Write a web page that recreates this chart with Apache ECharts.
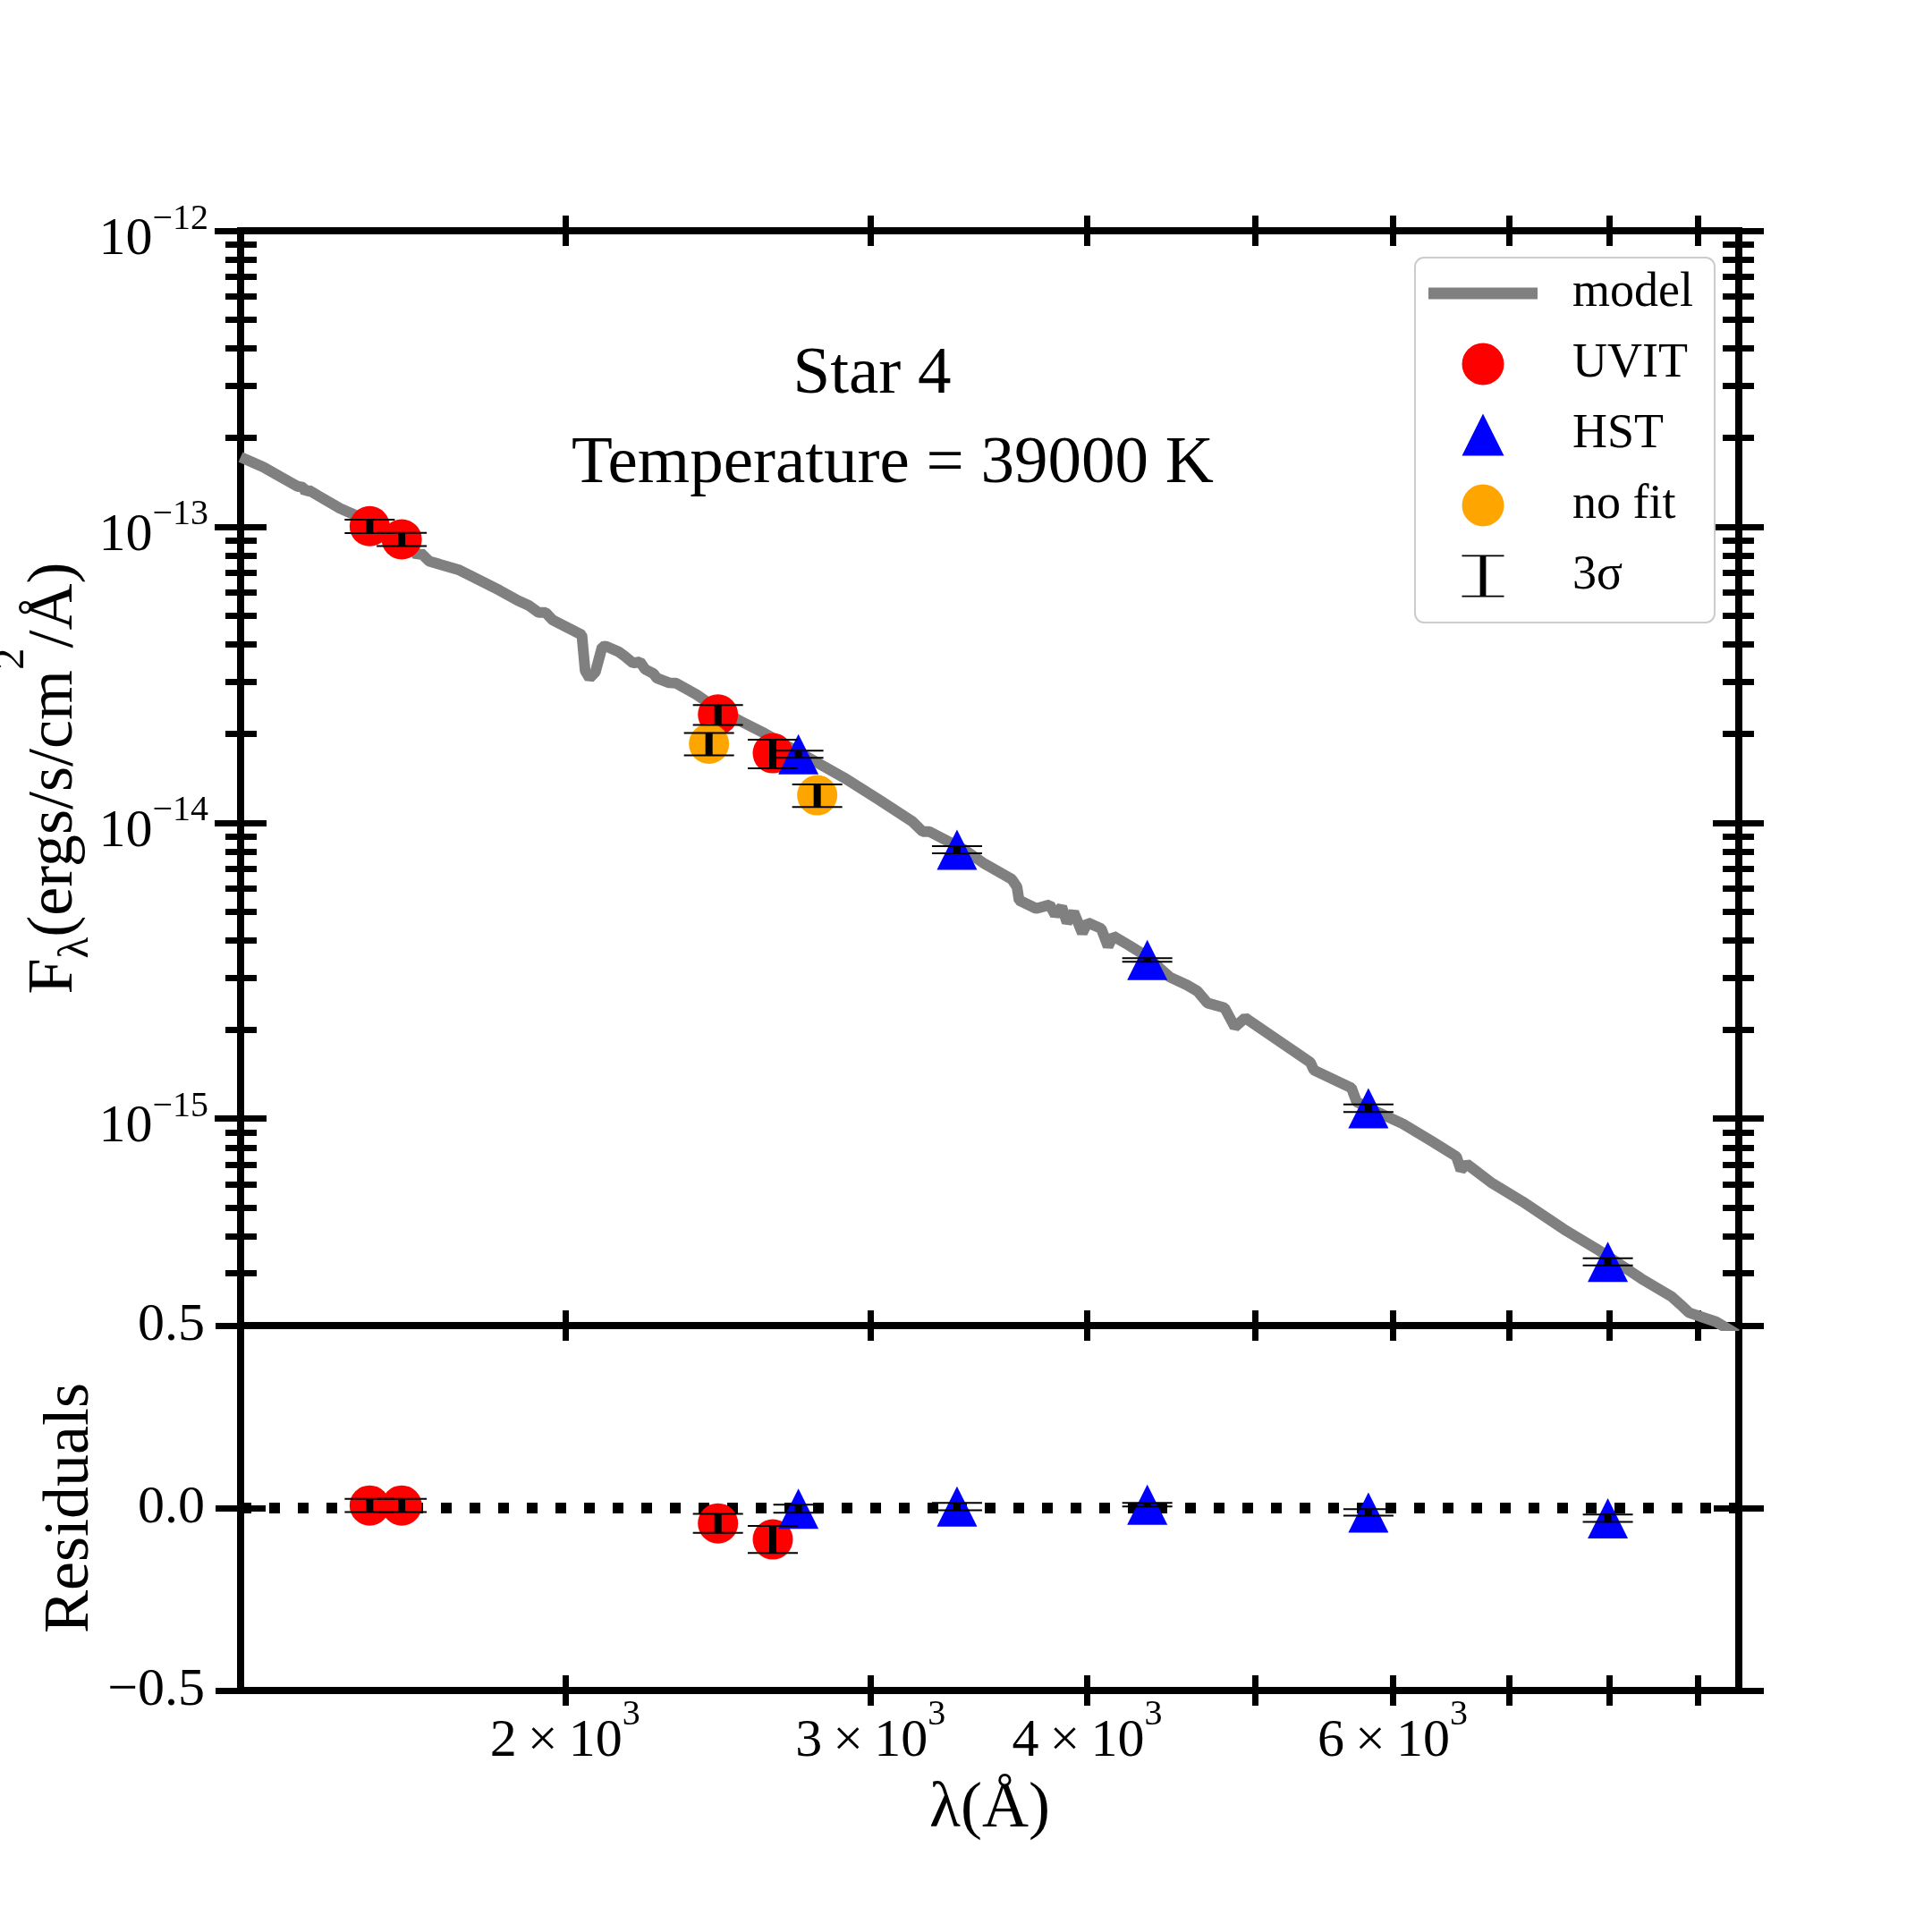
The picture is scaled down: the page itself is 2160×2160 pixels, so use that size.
<!DOCTYPE html>
<html>
<head>
  <meta charset="UTF-8">
  <title>Star 4 SED</title>
  <script src="https://cdn.jsdelivr.net/npm/echarts@6/dist/echarts.min.js"></script>
  <style>
    html, body { margin: 0; padding: 0; background: #fff; }
    #main { width: 2160px; height: 2160px; }
  </style>
</head>
<body>
<div id="main"></div>
<script>
  // axis ranges
  var XMIN = 1300, XMAX = 9500;
  var FMIN = 2e-16, FMAX = 1e-12;

  // model spectrum
  var modelWave = [1300, 1340, 1369, 1402, 1413, 1417, 1423, 1443, 1483, 1506, 1556, 1612, 1635, 1644, 1651,
    1670, 1692, 1738, 1785, 1833, 1879, 1905, 1931, 1949, 1967, 2045, 2054, 2066, 2082, 2101, 2111, 2149,
    2164, 2189, 2209, 2224, 2249, 2259, 2296, 2317, 2381, 2444, 2526, 2608, 2752, 2896, 3031, 3171, 3215,
    3244, 3396, 3491, 3619, 3644, 3654, 3738, 3806, 3833, 3867, 3894, 3929, 3974, 4002, 4075, 4112, 4140,
    4226, 4324, 4463, 4566, 4629, 4692, 4800, 4866, 4933, 5379, 5404, 5681, 5720, 5844, 6081, 6326, 6530,
    6569, 6621, 6848, 7125, 7561, 7866, 8347, 8685, 8789, 8894, 9217, 9476];
  var modelFlux = [1.720e-13, 1.590e-13, 1.480e-13, 1.369e-13, 1.358e-13, 1.308e-13, 1.330e-13, 1.267e-13,
    1.155e-13, 1.110e-13, 1.007e-13, 9.01e-14, 8.52e-14, 7.95e-14, 8.17e-14, 7.64e-14, 7.48e-14, 7.14e-14,
    6.60e-14, 6.10e-14, 5.63e-14, 5.43e-14, 5.13e-14, 5.13e-14, 4.84e-14, 4.31e-14, 3.26e-14, 3.08e-14,
    3.23e-14, 3.93e-14, 3.95e-14, 3.77e-14, 3.66e-14, 3.46e-14, 3.50e-14, 3.30e-14, 3.19e-14, 3.08e-14,
    2.97e-14, 2.96e-14, 2.71e-14, 2.44e-14, 2.20e-14, 2.00e-14, 1.68e-14, 1.42e-14, 1.20e-14, 1.01e-14,
    9.33e-15, 9.33e-15, 8.12e-15, 7.26e-15, 6.44e-15, 6.07e-15, 5.47e-15, 5.13e-15, 5.28e-15, 4.88e-15,
    5.20e-15, 4.60e-15, 4.99e-15, 4.24e-15, 4.60e-15, 4.39e-15, 3.82e-15, 4.14e-15, 3.86e-15, 3.55e-15,
    3.01e-15, 2.83e-15, 2.70e-15, 2.46e-15, 2.37e-15, 2.04e-15, 2.19e-15, 1.55e-15, 1.46e-15, 1.27e-15,
    1.14e-15, 1.07e-15, 9.61e-16, 8.36e-16, 7.45e-16, 6.71e-16, 7.03e-16, 6.05e-16, 5.26e-16, 4.17e-16,
    3.63e-16, 2.88e-16, 2.51e-16, 2.36e-16, 2.21e-16, 2.06e-16, 1.87e-16];

  // photometry
  var uvitWave = [1543, 1610, 2450, 2635];
  var uvitFlux = [1.004e-13, 9.07e-14, 2.32e-14, 1.717e-14];
  var uvitErr = [5.3e-15, 4.7e-15, 1.8e-15, 1.9e-15];
  var uvitRes = [0.007, 0.007, -0.042, -0.086];
  var uvitResErr = [0.018, 0.018, 0.026, 0.037];

  var hstWave = [2726, 3365, 4332, 5810, 7984];
  var hstFlux = [1.705e-14, 8.11e-15, 3.44e-15, 1.085e-15, 3.285e-16];
  var hstErr = [4.7e-16, 2.3e-16, 4.8e-17, 3.2e-17, 9.1e-18];
  var hstRes = [-0.002, 0.004, 0.009, -0.012, -0.028];
  var hstResErr = [0.011, 0.010, 0.005, 0.009, 0.010];

  var nofitWave = [2421, 2795];
  var nofitFlux = [1.848e-14, 1.238e-14];
  var nofitErr = [1.6e-15, 1.08e-15];

  // ticks
  var xTicks = [2000, 3000, 4000, 5000, 6000, 7000, 8000, 9000];
  var xLabelTicks = [2000, 3000, 4000, 6000];
  var fluxMajor = [1e-12, 1e-13, 1e-14, 1e-15];
  var fluxMinor = [3e-16, 4e-16, 5e-16, 6e-16, 7e-16, 8e-16, 9e-16,
    2e-15, 3e-15, 4e-15, 5e-15, 6e-15, 7e-15, 8e-15, 9e-15,
    2e-14, 3e-14, 4e-14, 5e-14, 6e-14, 7e-14, 8e-14, 9e-14,
    2e-13, 3e-13, 4e-13, 5e-13, 6e-13, 7e-13, 8e-13, 9e-13];
  var resTicks = [-0.5, 0, 0.5];

  var FONT = 'Liberation Serif';
  var LX = [Math.log10(XMIN), Math.log10(XMAX)];
  var LY = [Math.log10(FMIN), Math.log10(FMAX)];

  function zip(a, b, c) {
    return a.map(function (v, i) { return c ? [v, b[i], c[i]] : [v, b[i]]; });
  }

  // rich token; glyph shifts by (top - bottom) / 2 from the line centre
  function tok(size, lh, top, bottom) {
    return { fontFamily: FONT, color: '#000', fontSize: size, lineHeight: lh, padding: [top, 0, bottom, 0] };
  }

  // tick-only axis (log-space value axis so custom tick positions work)
  function tickAxis(grid, pos, inside, len, ticks, lo, hi) {
    return {
      type: 'value', gridIndex: grid, position: pos, min: lo, max: hi,
      axisLine: { show: true, onZero: false, lineStyle: { color: '#000', width: 8, cap: 'square' } },
      axisTick: { show: true, inside: inside, length: len, customValues: ticks,
                  lineStyle: { color: '#000', width: 7 } },
      axisLabel: { show: false },
      splitLine: { show: false }
    };
  }

  var lx = xTicks.map(Math.log10);
  var lyMaj = fluxMajor.map(Math.log10);
  var lyMin = fluxMinor.map(Math.log10);

  var xAxes = [
    { type: 'log', logBase: 10, gridIndex: 0, min: XMIN, max: XMAX, show: false },
    { type: 'log', logBase: 10, gridIndex: 1, min: XMIN, max: XMAX, show: false },
    tickAxis(0, 'bottom', false, 17, lx, LX[0], LX[1]),
    tickAxis(0, 'bottom', true, 17, lx, LX[0], LX[1]),
    tickAxis(0, 'top', false, 17, lx, LX[0], LX[1]),
    tickAxis(0, 'top', true, 17, lx, LX[0], LX[1]),
    tickAxis(1, 'bottom', false, 17, lx, LX[0], LX[1]),
    tickAxis(1, 'bottom', true, 17, lx, LX[0], LX[1]),
    tickAxis(1, 'top', false, 17, lx, LX[0], LX[1]),
    tickAxis(1, 'top', true, 17, lx, LX[0], LX[1])
  ];
  // wavelength labels + title on the residual panel
  xAxes[6].axisLabel = {
    show: true, customValues: xLabelTicks.map(Math.log10), margin: 22,
    fontFamily: FONT, color: '#000', fontSize: 60,
    formatter: function (v) {
      var m = Math.round(Math.pow(10, v) / 1000);
      return '{n|' + m + '\u2009\u00d7\u200910}{s|3}';
    },
    rich: { n: tok(60, 60, 20, 10), s: tok(40, 40, 0, 50) }
  };
  xAxes[6].name = 'λ(Å)';
  xAxes[6].nameLocation = 'middle';
  xAxes[6].nameGap = 97;
  xAxes[6].nameMoveOverlap = false;
  xAxes[6].nameTextStyle = { fontFamily: FONT, fontSize: 72, color: '#000' };

  var yAxes = [
    { type: 'log', logBase: 10, gridIndex: 0, min: FMIN, max: FMAX, show: false },
    tickAxis(0, 'left', false, 29, lyMaj, LY[0], LY[1]),
    tickAxis(0, 'left', true, 29, lyMaj, LY[0], LY[1]),
    tickAxis(0, 'left', false, 17, lyMin, LY[0], LY[1]),
    tickAxis(0, 'left', true, 18, lyMin, LY[0], LY[1]),
    tickAxis(0, 'right', false, 28, lyMaj, LY[0], LY[1]),
    tickAxis(0, 'right', true, 29, lyMaj, LY[0], LY[1]),
    tickAxis(0, 'right', false, 17, lyMin, LY[0], LY[1]),
    tickAxis(0, 'right', true, 18, lyMin, LY[0], LY[1]),
    tickAxis(1, 'left', false, 28, resTicks, -0.5, 0.5),
    tickAxis(1, 'left', true, 28, resTicks, -0.5, 0.5),
    tickAxis(1, 'right', false, 28, resTicks, -0.5, 0.5),
    tickAxis(1, 'right', true, 28, resTicks, -0.5, 0.5)
  ];
  yAxes[1].axisLabel = {
    show: true, customValues: lyMaj, margin: 36,
    fontFamily: FONT, color: '#000', fontSize: 60,
    formatter: function (v) {
      var e = Math.round(v);
      return '{n|10}{s|' + (e < 0 ? '\u2212' : '') + Math.abs(e) + '}';
    },
    rich: { n: tok(60, 60, 20, 0), s: tok(40, 40, 7, 33) }
  };
  yAxes[1].name = '{m|F}{sub|λ}{m|(ergs/s/cm}{sup|2}{m|/Å)}';
  yAxes[1].nameLocation = 'middle';
  yAxes[1].nameGap = 172;
  yAxes[1].nameMoveOverlap = false;
  yAxes[1].nameTextStyle = {
    fontFamily: FONT, fontSize: 72, color: '#000',
    rich: { m: tok(72, 72, 36, 36), sub: tok(49, 49, 72, 23), sup: tok(49, 49, 0, 95) }
  };
  yAxes[9].axisLabel = {
    show: true, customValues: resTicks, margin: 40,
    fontFamily: FONT, color: '#000', fontSize: 60,
    formatter: function (v) { return (v < 0 ? '\u2212' : '') + Math.abs(v).toFixed(1); }
  };
  yAxes[9].name = 'Residuals';
  yAxes[9].nameLocation = 'middle';
  yAxes[9].nameGap = 154;
  yAxes[9].nameMoveOverlap = false;
  yAxes[9].nameTextStyle = { fontFamily: FONT, fontSize: 72, color: '#000' };

  // 3-sigma error bars: thick stem + thin caps
  function renderErr(params, api) {
    var x = api.value(0), y = api.value(1), e = api.value(2);
    var hi = api.coord([x, y + e]);
    var lo = api.coord([x, y - e]);
    var cx = hi[0], cap = 28;
    return {
      type: 'group',
      children: [
        { type: 'line', shape: { x1: cx, y1: hi[1], x2: cx, y2: lo[1] }, style: { stroke: '#000', lineWidth: 8 } },
        { type: 'line', shape: { x1: cx - cap, y1: hi[1], x2: cx + cap, y2: hi[1] }, style: { stroke: '#000', lineWidth: 2 } },
        { type: 'line', shape: { x1: cx - cap, y1: lo[1], x2: cx + cap, y2: lo[1] }, style: { stroke: '#000', lineWidth: 2 } }
      ]
    };
  }

  var mainErrRows = zip(uvitWave, uvitFlux, uvitErr).concat(zip(hstWave, hstFlux, hstErr), zip(nofitWave, nofitFlux, nofitErr));
  var resErrRows = zip(uvitWave, uvitRes, uvitResErr).concat(zip(hstWave, hstRes, hstResErr));

  var option = {
    backgroundColor: '#ffffff',
    animation: false,
    textStyle: { fontFamily: FONT },
    grid: [
      { left: 269, top: 258, width: 1675, height: 1224, outerBoundsMode: 'none' },
      { left: 269, top: 1482, width: 1675, height: 408, outerBoundsMode: 'none' }
    ],
    xAxis: xAxes,
    yAxis: yAxes,
    legend: {
      orient: 'vertical', left: 1582, top: 288,
      padding: [13, 24, 25, 15],
      itemWidth: 122, itemHeight: 47, itemGap: 25,
      backgroundColor: '#ffffff', borderColor: '#cccccc', borderWidth: 2, borderRadius: 10,
      selectedMode: false,
      textStyle: { fontFamily: FONT, fontSize: 54, color: '#000', padding: [0, 0, 0, 34] },
      data: [
        { name: 'model', icon: 'path://M0,0H122V13H0Z', itemStyle: { color: '#808080', borderWidth: 0, opacity: 1 } },
        { name: 'UVIT', icon: 'circle', itemStyle: { color: '#ff0000', borderWidth: 0, opacity: 1 } },
        { name: 'HST', icon: 'path://M5,0L10,10L0,10Z', itemStyle: { color: '#0000ff', borderWidth: 0, opacity: 1 } },
        { name: 'no fit', icon: 'circle', itemStyle: { color: '#ffa500', borderWidth: 0, opacity: 1 } },
        { name: '3σ', icon: 'path://M0,0H56V2H32V54H56V56H0V54H24V2H0Z', itemStyle: { color: '#000', borderWidth: 0, opacity: 1 } }
      ]
    },
    graphic: [
      { type: 'text', x: 975, y: 419, style: { text: 'Star 4', fontFamily: FONT, fontSize: 75, fill: '#000', align: 'center', verticalAlign: 'middle' } },
      { type: 'text', x: 998, y: 519, style: { text: 'Temperature = 39000 K', fontFamily: FONT, fontSize: 75, fill: '#000', align: 'center', verticalAlign: 'middle' } }
    ],
    series: [
      { name: 'model', type: 'line', xAxisIndex: 0, yAxisIndex: 0, data: zip(modelWave, modelFlux),
        symbol: 'none', clip: true, lineStyle: { color: '#808080', width: 12, opacity: 1 }, itemStyle: { color: '#808080' }, z: 2 },
      { name: 'UVIT', type: 'scatter', xAxisIndex: 0, yAxisIndex: 0, data: zip(uvitWave, uvitFlux),
        symbol: 'circle', symbolSize: 45, itemStyle: { color: '#ff0000', opacity: 1 }, z: 3 },
      { name: 'HST', type: 'scatter', xAxisIndex: 0, yAxisIndex: 0, data: zip(hstWave, hstFlux),
        symbol: 'triangle', symbolSize: 45, itemStyle: { color: '#0000ff', opacity: 1 }, z: 3 },
      { name: 'no fit', type: 'scatter', xAxisIndex: 0, yAxisIndex: 0, data: zip(nofitWave, nofitFlux),
        symbol: 'circle', symbolSize: 45, itemStyle: { color: '#ffa500', opacity: 1 }, z: 3 },
      { name: '3σ', type: 'custom', xAxisIndex: 0, yAxisIndex: 0, data: mainErrRows,
        encode: { x: 0, y: 1 }, renderItem: renderErr, itemStyle: { color: '#000' }, z: 4 },

      { name: 'zero', type: 'line', xAxisIndex: 1, yAxisIndex: 9, data: [[XMIN, 0], [XMAX, 0]],
        symbol: 'none', silent: true, lineStyle: { color: '#000', width: 12, type: [12, 20] }, z: 2 },
      { name: 'UVIT', type: 'scatter', xAxisIndex: 1, yAxisIndex: 9, data: zip(uvitWave, uvitRes),
        symbol: 'circle', symbolSize: 45, itemStyle: { color: '#ff0000', opacity: 1 }, z: 3 },
      { name: 'HST', type: 'scatter', xAxisIndex: 1, yAxisIndex: 9, data: zip(hstWave, hstRes),
        symbol: 'triangle', symbolSize: 45, itemStyle: { color: '#0000ff', opacity: 1 }, z: 3 },
      { name: '3σ', type: 'custom', xAxisIndex: 1, yAxisIndex: 9, data: resErrRows,
        encode: { x: 0, y: 1 }, renderItem: renderErr, itemStyle: { color: '#000' }, z: 4 }
    ]
  };

  var chart = echarts.init(document.getElementById('main'));
  chart.setOption(option);
</script>
</body>
</html>
